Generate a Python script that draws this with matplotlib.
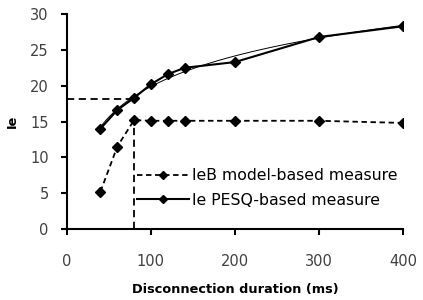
import numpy as np
import matplotlib
matplotlib.use("Agg")
import matplotlib.pyplot as plt

plt.rcParams['font.family'] = ['DejaVu Sans']

x_ms = [40, 60, 80, 100, 120, 140, 200, 300, 400]
ie_pesq = [14.0, 16.6, 18.3, 20.2, 21.6, 22.5, 23.3, 26.8, 28.3]
ieb_model = [5.2, 11.5, 15.2, 15.1, 15.1, 15.1, 15.1, 15.1, 14.8]
ref_x = 80
ref_y = 18.2

fig = plt.figure(figsize=(4.23, 3.0), dpi=100)
ax = fig.add_axes([0.158, 0.237, 0.795, 0.716])

# log trend line of PESQ-based measure
coef = np.polyfit(np.log(x_ms), ie_pesq, 1)
xt = np.linspace(min(x_ms), max(x_ms), 200)
ax.plot(xt, coef[0] * np.log(xt) + coef[1], color='black', lw=0.7)

ax.plot(x_ms, ieb_model, color='black', lw=1.3, ls=(0, (3, 2)), marker='D',
        markersize=5, label='IeB model-based measure')
ax.plot(x_ms, ie_pesq, color='black', lw=1.5, marker='D', markersize=5,
        label='Ie PESQ-based measure')

ax.plot([0, ref_x], [ref_y, ref_y], color='black', lw=1.3, ls=(0, (4, 2.5)))
ax.plot([ref_x, ref_x], [0, ieb_model[x_ms.index(ref_x)]], color='black', lw=1.3,
        ls=(0, (4, 2.5)))

ax.set_xlim(0, 400)
ax.set_ylim(0, 30)
ax.set_xticks([0, 100, 200, 300, 400])
ax.set_yticks([0, 5, 10, 15, 20, 25, 30])
for s in ['top', 'right']:
    ax.spines[s].set_visible(False)
for s in ['left', 'bottom']:
    ax.spines[s].set_linewidth(1.5)
ax.tick_params(axis='both', labelsize=10.5, width=1.5, length=4, colors='black',
               labelcolor='#404040')
ax.tick_params(axis='y', pad=9)
ax.tick_params(axis='x', pad=14)
ax.set_xlabel('Disconnection duration (ms)', fontsize=9.3, fontweight='bold', labelpad=10)
ax.set_ylabel('Ie', fontsize=9.3, fontweight='bold', labelpad=8)

ax.legend(loc='center left', bbox_to_anchor=(0.208, 0.191), frameon=False, fontsize=11.3,
          handlelength=3.3, handletextpad=0.25, labelspacing=0.62, borderpad=0,
          borderaxespad=0, markerscale=0.8)

fig.savefig('out.png', dpi=100)
